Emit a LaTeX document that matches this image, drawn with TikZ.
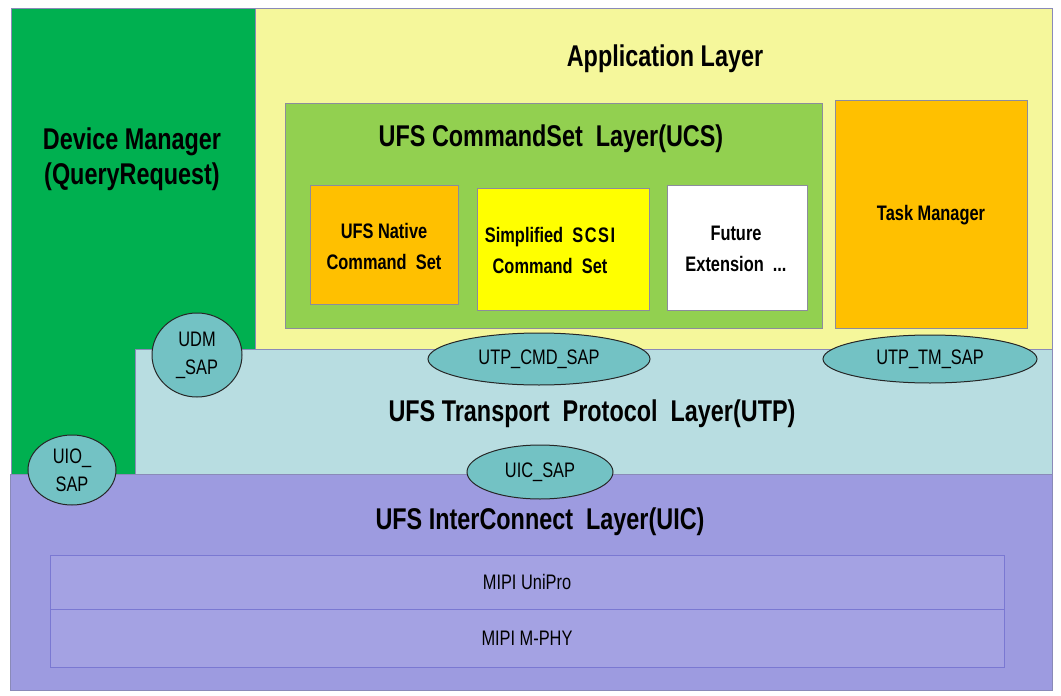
\documentclass[tikz,border=0pt]{standalone}
\usepackage{fontspec}
\setmainfont{Liberation Sans}[FakeStretch=0.78]
\usetikzlibrary{shapes.geometric}
\definecolor{dmgreen}{HTML}{00B050}
\definecolor{appyellow}{HTML}{F5F79B}
\definecolor{ucsgreen}{HTML}{92D050}
\definecolor{orangebox}{HTML}{FFC000}
\definecolor{brightyellow}{HTML}{FFFF00}
\definecolor{utpblue}{HTML}{B8DDE1}
\definecolor{uicpurple}{HTML}{9D9BE0}
\definecolor{mipipurple}{HTML}{A4A2E3}
\definecolor{mipiline}{HTML}{7A78D2}
\definecolor{sapteal}{HTML}{73C2C4}
\definecolor{framecol}{HTML}{8A8AB8}
\definecolor{innerframe}{HTML}{8C8C9C}
\tikzset{
  layerbox/.style={draw=framecol, line width=0.9pt, anchor=north west, inner sep=0pt},
  innerbox/.style={draw=innerframe, line width=0.9pt, anchor=north west, inner sep=0pt},
  mipibox/.style={draw=mipiline, line width=1pt, fill=mipipurple, anchor=north west, inner sep=0pt},
  bigtxt/.style={font=\bfseries\fontsize{30}{35}\selectfont, align=center, inner sep=0pt},
  midtxt/.style={font=\bfseries\fontsize{21}{31}\selectfont, align=center, inner sep=0pt},
  plaintxt/.style={font=\fontsize{21}{28}\selectfont, align=center, inner sep=0pt},
  sap/.style={ellipse, draw=black!85, fill=sapteal, line width=1pt, inner sep=0pt,
              font=\fontsize{21}{28}\selectfont, align=center}
}
\begin{document}
\begin{tikzpicture}[x=1pt,y=-1pt]
\useasboundingbox (0,0) rectangle (1061,696);
\fill[white] (0,0) rectangle (1061,696);
% application layer
\node[layerbox, fill=appyellow, minimum width=797pt, minimum height=341pt] (app) at (255,8) {};
% device manager
\node[layerbox, fill=dmgreen, minimum width=244pt, minimum height=466pt] (dm) at (11,8) {};
% UCS
\node[innerbox, fill=ucsgreen, minimum width=537pt, minimum height=225pt] (ucs) at (285,103) {};
\node[innerbox, fill=orangebox, minimum width=148pt, minimum height=119pt] (native) at (310,185) {};
\node[innerbox, fill=brightyellow, minimum width=172pt, minimum height=122pt] (scsi) at (477,188) {};
\node[innerbox, fill=white, minimum width=140pt, minimum height=125pt] (future) at (667,185) {};
\node[innerbox, fill=orangebox, minimum width=192pt, minimum height=228pt] (task) at (835,100) {};
% UTP
\node[layerbox, fill=utpblue, minimum width=917pt, minimum height=125pt] (utp) at (135,349) {};
% UIC
\node[layerbox, fill=uicpurple, minimum width=1042pt, minimum height=216pt] (uic) at (10,474) {};
\node[mipibox, minimum width=954pt, minimum height=54pt] (unipro) at (50,555) {};
\node[mipibox, minimum width=954pt, minimum height=58pt] (mphy) at (50,609) {};
% texts
\node[bigtxt] (dmtxt) at (132,159) {Device Manager\\(QueryRequest)};
\node[bigtxt] (apptxt) at (665,59) {Application Layer};
\node[bigtxt] (ucstxt) at (551,139) {UFS CommandSet~~Layer(UCS)};
\node[midtxt] (nativetxt) at (384,246) {UFS Native\\Command~~Set};
\node[midtxt] (scsitxt) at (550,250) {Simplified~~S\hspace{1.5pt}C\hspace{1.5pt}S\hspace{1.5pt}I\\Command~~Set};
\node[midtxt] (futuretxt) at (736,249) {Future\\Extension~~...};
\node[midtxt] (tasktxt) at (931,215) {Task Manager};
\node[bigtxt] (utptxt) at (592,414) {UFS Transport~~Protocol~~Layer(UTP)};
\node[bigtxt] (uictxt) at (540,522) {UFS InterConnect~~Layer(UIC)};
\node[plaintxt] (uniprotxt) at (527,582) {MIPI UniPro};
\node[plaintxt] (mphytxt) at (527,638) {MIPI M-PHY};
% SAPs
\node[sap, minimum width=90pt, minimum height=84pt] (udm) at (197,355) {UDM\\\_SAP};
\node[sap, minimum width=88pt, minimum height=70pt] (uio) at (72,470) {UIO\_\\SAP};
\node[sap, minimum width=222pt, minimum height=52pt] (utpcmd) at (539,359) {UTP\_CMD\_SAP};
\node[sap, minimum width=146pt, minimum height=54pt] (uicsap) at (540,472) {UIC\_SAP};
\node[sap, minimum width=214pt, minimum height=48pt] (utptm) at (930,359) {UTP\_TM\_SAP};
\end{tikzpicture}
\end{document}
